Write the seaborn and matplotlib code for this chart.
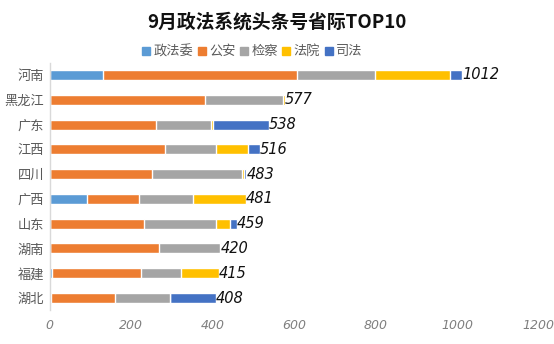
import matplotlib
matplotlib.use("Agg")
import matplotlib.pyplot as plt
from matplotlib.lines import Line2D
import seaborn as sns
import pandas as pd
import numpy as np

provinces = ["河南", "黑龙江", "广东", "江西", "四川", "广西", "山东", "湖南", "福建", "湖北"]
series_names = ["政法委", "公安", "检察", "法院", "司法"]
zhengfawei = [132, 0, 0, 0, 0, 93, 0, 0, 6, 4]
gongan = [475, 382, 261, 283, 252, 127, 232, 269, 218, 157]
jiancha = [192, 192, 135, 125, 221, 133, 177, 149, 98, 135]
fayuan = [184, 3, 5, 79, 4, 128, 34, 0, 93, 0]
sifa = [29, 0, 137, 29, 6, 0, 16, 2, 0, 112]
totals = [1012, 577, 538, 516, 483, 481, 459, 420, 415, 408]
x_ticks = [0, 200, 400, 600, 800, 1000, 1200]

colors = ["#5B9BD5", "#ED7D31", "#A5A5A5", "#FFC000", "#4472C4"]

sns.set_theme(style="white")
plt.rcParams["font.family"] = ["Noto Sans CJK SC", "DejaVu Sans"]

df = pd.DataFrame({"省份": provinces, "政法委": zhengfawei, "公安": gongan,
                   "检察": jiancha, "法院": fayuan, "司法": sifa})
cum = df[series_names].cumsum(axis=1)
cum["省份"] = df["省份"]

fig = plt.figure(figsize=(5.54, 3.44), dpi=100)
ax = fig.add_axes([0.0894, 0.0977, 0.8826, 0.7203])

# stacked bars: draw cumulative totals from the outermost layer inward
for name, color in reversed(list(zip(series_names, colors))):
    sns.barplot(data=cum, x=name, y="省份", order=provinces, color=color,
                width=0.4, saturation=1, ax=ax, orient="h")

for i, t in enumerate(totals):
    ax.text(t, i, str(t), va="center", ha="left", fontsize=10.5,
            style="italic", color="#111111", family=["DejaVu Sans"])

ax.set_xlim(0, 1200)
ax.set_ylim(9.5, -0.5)
ax.set_xticks(x_ticks)
ax.set_xticklabels([str(v) for v in x_ticks], fontsize=9, style="italic",
                   color="#7F7F7F", family=["DejaVu Sans"])
ax.tick_params(axis="y", labelsize=9.5, labelcolor="#595959", length=0, pad=4)
ax.tick_params(axis="x", length=0, pad=6)
ax.set_xlabel("")
ax.set_ylabel("")
for s in ["top", "right", "bottom"]:
    ax.spines[s].set_visible(False)
ax.spines["left"].set_color("#D9D9D9")
ax.spines["left"].set_linewidth(1)

fig.text(0.5, 0.935, "9月政法系统头条号省际TOP10", ha="center", va="center",
         fontsize=13.5, fontweight="bold", color="#111111")

handles = [Line2D([0], [0], marker="s", linestyle="", markersize=6,
                  markerfacecolor=c, markeredgecolor=c) for c in colors]
fig.legend(handles, series_names, loc="center", bbox_to_anchor=(0.455, 0.85),
           ncol=5, frameon=False, fontsize=9.5, handlelength=0.7,
           handletextpad=0.2, columnspacing=0.3, labelcolor="#595959")

fig.savefig("out.png", dpi=100)
